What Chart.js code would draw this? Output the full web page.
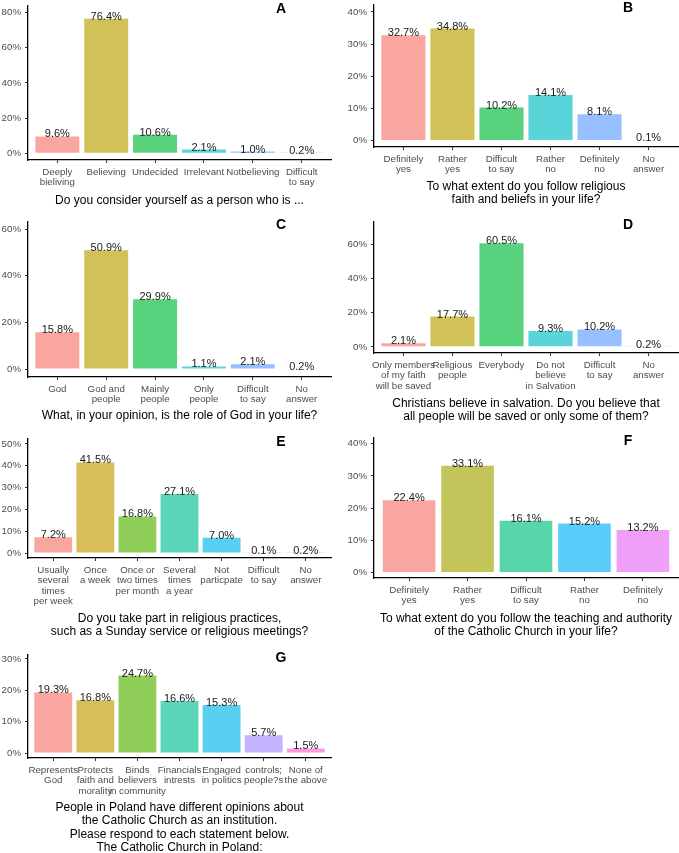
<!DOCTYPE html>
<html>
<head>
<meta charset="utf-8">
<script src="https://cdn.jsdelivr.net/npm/chart.js@4"></script>
<style>
  html, body { margin: 0; padding: 0; background: #fff; }
  #wrap { position: relative; width: 679px; height: 853px; overflow: hidden; }
  #wrap canvas { position: absolute; }
</style>
</head>
<body>
<div id="wrap"></div>
<script>
// --- data ---
const aLabels = [['Deeply', 'bieliving'], 'Believing', 'Undecided', 'Irrelevant', 'Notbelieving', ['Difficult', 'to say']];
const aValues = [9.6, 76.4, 10.6, 2.1, 1.0, 0.2];
const aTicks = [0, 20, 40, 60, 80];
const aTitle = ['Do you consider yourself as a person who is ...'];

const bLabels = [['Definitely', 'yes'], ['Rather', 'yes'], ['Difficult', 'to say'], ['Rather', 'no'], ['Definitely', 'no'], ['No', 'answer']];
const bValues = [32.7, 34.8, 10.2, 14.1, 8.1, 0.1];
const bTicks = [0, 10, 20, 30, 40];
const bTitle = ['To what extent do you follow religious', 'faith and beliefs in your life?'];

const cLabels = ['God', ['God and', 'people'], ['Mainly', 'people'], ['Only', 'people'], ['Difficult', 'to say'], ['No', 'answer']];
const cValues = [15.8, 50.9, 29.9, 1.1, 2.1, 0.2];
const cTicks = [0, 20, 40, 60];
const cTitle = ['What, in your opinion, is the role of God in your life?'];

const dLabels = [['Only members', 'of my faith', 'will be saved'], ['Religious', 'people'], 'Everybody', ['Do not', 'believe', 'in Salvation'], ['Difficult', 'to say'], ['No', 'answer']];
const dValues = [2.1, 17.7, 60.5, 9.3, 10.2, 0.2];
const dTicks = [0, 20, 40, 60];
const dTitle = ['Christians believe in salvation. Do you believe that', 'all people will be saved or only some of them?'];

const eLabels = [['Usually', 'several', 'times', 'per week'], ['Once', 'a week'], ['Once or', 'two times', 'per month'], ['Several', 'times', 'a year'], ['Not', 'particpate'], ['Difficult', 'to say'], ['No', 'answer']];
const eValues = [7.2, 41.5, 16.8, 27.1, 7.0, 0.1, 0.2];
const eTicks = [0, 10, 20, 30, 40, 50];
const eTitle = ['Do you take part in religious practices,', 'such as a Sunday service or religious meetings?'];

const fLabels = [['Definitely', 'yes'], ['Rather', 'yes'], ['Difficult', 'to say'], ['Rather', 'no'], ['Definitely', 'no']];
const fValues = [22.4, 33.1, 16.1, 15.2, 13.2];
const fTicks = [0, 10, 20, 30, 40];
const fTitle = ['To what extent do you follow the teaching and authority', 'of the Catholic Church in your life?'];

const gLabels = [['Represents', 'God'], ['Protects', 'faith and', 'morality'], ['Binds', 'believers', 'in community'], ['Financials', 'intrests'], ['Engaged', 'in politics'], ['controls;', 'people?s'], ['None of', 'the above']];
const gValues = [19.3, 16.8, 24.7, 16.6, 15.3, 5.7, 1.5];
const gTicks = [0, 10, 20, 30];
const gTitle = ['People in Poland have different opinions about', 'the Catholic Church as an institution.', 'Please respond to each statement below.', 'The Catholic Church in Poland:'];

// ggplot hue palettes
const hue5 = ['#F8766D', '#A3A500', '#00BF7D', '#00B0F6', '#E76BF3'];
const hue6 = ['#F8766D', '#B79F00', '#00BA38', '#00BFC4', '#619CFF', '#F564E3'];
const hue7 = ['#F8766D', '#C49A00', '#53B400', '#00C094', '#00B6EB', '#A58AFF', '#FB61D7'];

// panel layout: plot box (l, r, t, b), y range, centre of last title line
const panels = [
    { letter: 'A', labels: aLabels, values: aValues, ticks: aTicks, title: aTitle, colors: hue6, col: 0, l: 28, r: 331, t: 4, b: 160, ymin: -3.8, ymax: 83.7, titleY: 200 },
    { letter: 'B', labels: bLabels, values: bValues, ticks: bTicks, title: bTitle, colors: hue6, col: 1, l: 374, r: 678, t: 3, b: 147, ymin: -2.06, ymax: 42.2, titleY: 199 },
    { letter: 'C', labels: cLabels, values: cValues, ticks: cTicks, title: cTitle, colors: hue6, col: 0, l: 28, r: 331, t: 220, b: 377, ymin: -3.4, ymax: 63.1, titleY: 415 },
    { letter: 'D', labels: dLabels, values: dValues, ticks: dTicks, title: dTitle, colors: hue6, col: 1, l: 374, r: 678, t: 220, b: 353, ymin: -3.6, ymax: 73.1, titleY: 416 },
    { letter: 'E', labels: eLabels, values: eValues, ticks: eTicks, title: eTitle, colors: hue7, col: 0, l: 28, r: 331, t: 437, b: 558, ymin: -2.25, ymax: 52.3, titleY: 631 },
    { letter: 'F', labels: fLabels, values: fValues, ticks: fTicks, title: fTitle, colors: hue5, col: 1, l: 374, r: 678, t: 436, b: 578, ymin: -1.7, ymax: 41.8, titleY: 631 },
    { letter: 'G', labels: gLabels, values: gValues, ticks: gTicks, title: gTitle, colors: hue7, col: 0, l: 28, r: 331, t: 653, b: 758, ymin: -1.56, ymax: 31.3, titleY: 847 }
];

const FONT = '"Liberation Sans", Arial, Helvetica, sans-serif';

function withAlpha(hex, a) {
    const n = parseInt(hex.slice(1), 16);
    return `rgba(${(n >> 16) & 255}, ${(n >> 8) & 255}, ${n & 255}, ${a})`;
}

// value labels above bars + panel letter
const barLabels = {
    id: 'barLabels',
    afterDatasetsDraw(chart, args, opts) {
        const ctx = chart.ctx;
        const meta = chart.getDatasetMeta(0);
        ctx.save();
        ctx.font = `11px ${FONT}`;
        ctx.fillStyle = '#1a1a1a';
        ctx.textAlign = 'center';
        ctx.textBaseline = 'alphabetic';
        meta.data.forEach((bar, i) => {
            const v = chart.data.datasets[0].data[i].y;
            ctx.fillText(v.toFixed(1) + '%', bar.x, bar.y + 1);
        });
        ctx.font = `bold 14px ${FONT}`;
        ctx.fillStyle = '#000';
        ctx.textBaseline = 'middle';
        ctx.fillText(opts.letter, chart.chartArea.right - 50, chart.chartArea.top + 3);
        ctx.restore();
    }
};

const wrap = document.getElementById('wrap');

panels.forEach(p => {
    const left = p.col ? 340 : 0;
    const width = p.col ? 339 : 340;
    const top = p.t - 8;
    const bottom = Math.round(p.titleY + 8.6);
    const height = bottom - top;

    const canvas = document.createElement('canvas');
    canvas.width = width;
    canvas.height = height;
    canvas.style.left = left + 'px';
    canvas.style.top = top + 'px';
    wrap.appendChild(canvas);

    const n = p.labels.length;
    const tickStyle = { display: true, drawOnChartArea: false, drawTicks: true, tickLength: 3, color: '#333', offset: false };

    new Chart(canvas, {
        type: 'bar',
        data: {
            datasets: [{
                data: p.values.map((v, i) => ({ x: i, y: v })),
                backgroundColor: p.colors.map(c => withAlpha(c, 0.65)),
                borderWidth: 0,
                categoryPercentage: 1,
                barPercentage: 0.9
            }]
        },
        options: {
            responsive: false,
            animation: false,
            devicePixelRatio: 1,
            layout: { autoPadding: false, padding: { top: p.t - top, right: left + width - p.r, left: 0, bottom: 0 } },
            plugins: { legend: { display: false }, tooltip: { enabled: false }, barLabels: { letter: p.letter } },
            scales: {
                x: {
                    type: 'linear',
                    min: -0.6,
                    max: n - 0.4,
                    offset: false,
                    grid: tickStyle,
                    border: { display: true, color: '#000', width: 1.3 },
                    afterBuildTicks: s => { s.ticks = p.labels.map((_, i) => ({ value: i })); },
                    afterFit: s => { s.height = bottom - p.b; },
                    ticks: {
                        autoSkip: false, maxRotation: 0, minRotation: 0, padding: 4,
                        color: '#4d4d4d', font: { family: FONT, size: 9.7, lineHeight: 1.08 },
                        callback: (v, i) => p.labels[i]
                    },
                    title: {
                        display: true, text: p.title, color: '#000',
                        font: { family: FONT, size: 12, lineHeight: 1.1 },
                        padding: { top: 0, bottom: 2 }
                    }
                },
                y: {
                    min: p.ymin,
                    max: p.ymax,
                    grid: tickStyle,
                    border: { display: true, color: '#000', width: 1.3 },
                    afterBuildTicks: s => { s.ticks = p.ticks.map(v => ({ value: v })); },
                    afterFit: s => { s.width = p.l - left; },
                    ticks: {
                        padding: 4, color: '#4d4d4d',
                        font: { family: FONT, size: 9.7 },
                        callback: v => v + '%'
                    }
                }
            }
        },
        plugins: [barLabels]
    });
});
</script>
</body>
</html>
